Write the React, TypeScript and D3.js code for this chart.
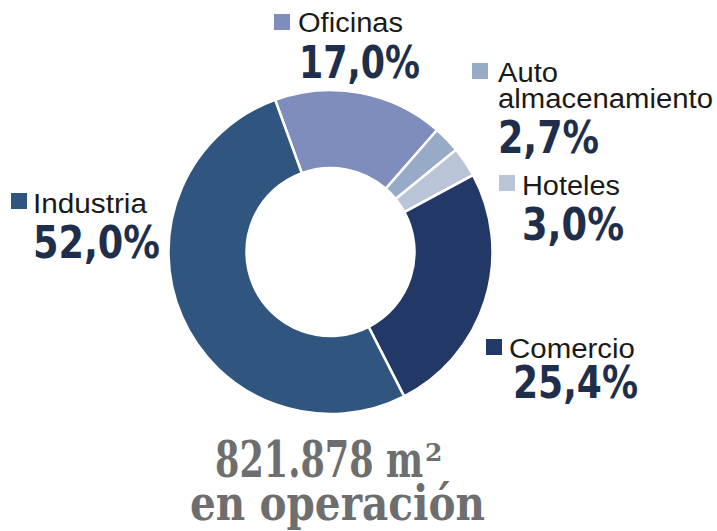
import React, { useEffect, useRef } from 'react';
import * as d3 from 'd3';

const categories = ['Oficinas', 'Auto almacenamiento', 'Hoteles', 'Comercio', 'Industria'];
const shares = [17.0, 2.7, 3.0, 25.4, 52.0];
const shareLabels = ['17,0%', '2,7%', '3,0%', '25,4%', '52,0%'];
const colors = ['#7f8dbd', '#97aac8', '#bac4d7', '#223866', '#30557f'];
const totalLabel = ['821.878 m', '2', 'en operación'];

const W = 717;
const H = 531;

const App = () => {
  const svgRef = useRef(null);

  useEffect(() => {
    document.body.style.margin = '0';
    const svg = d3.select(svgRef.current);
    svg.selectAll('*').remove();

    const cx = 330.5, cy = 252;
    const g = svg.append('g').attr('transform', `translate(${cx},${cy})`);

    const start = (-20 * Math.PI) / 180;
    const pie = d3.pie<number>().sort(null).value(d => d)
      .startAngle(start).endAngle(start + 2 * Math.PI);
    const arc = d3.arc<d3.PieArcDatum<number>>().innerRadius(84).outerRadius(162);

    g.selectAll('path')
      .data(pie(shares))
      .enter()
      .append('path')
      .attr('d', arc)
      .attr('fill', (d, i) => colors[i])
      .attr('stroke', 'white')
      .style('stroke-width', '2.5px');

    // where each legend entry goes: square, name lines [text, x, baseline, width], percent [x, baseline, width]
    const layout = [
      { sq: [274, 14], names: [['Oficinas', 298, 32, 105]], pct: [299, 78, 121] },
      { sq: [472, 63], names: [['Auto', 498, 82, 60], ['almacenamiento', 498, 108, 215]], pct: [498, 153, 101] },
      { sq: [499, 175], names: [['Hoteles', 522, 195, 98]], pct: [522, 240, 102] },
      { sq: [486, 339], names: [['Comercio', 509, 358, 126]], pct: [513, 398, 125] },
      { sq: [11, 193], names: [['Industria', 33, 213, 114]], pct: [33, 258, 127] },
    ];

    const labels = svg.append('g');
    layout.forEach((l, i) => {
      labels.append('rect')
        .attr('x', l.sq[0]).attr('y', l.sq[1])
        .attr('width', 16).attr('height', 16)
        .attr('fill', colors[i]);
      l.names.forEach(n => {
        labels.append('text')
          .attr('x', n[1]).attr('y', n[2])
          .attr('textLength', n[3]).attr('lengthAdjust', 'spacingAndGlyphs')
          .style('font-family', '"Liberation Sans", Arial, sans-serif')
          .style('font-size', '27px')
          .attr('fill', '#1a1a1a')
          .text(n[0] as string);
      });
      labels.append('text')
        .attr('x', l.pct[0]).attr('y', l.pct[1])
        .attr('textLength', l.pct[2]).attr('lengthAdjust', 'spacingAndGlyphs')
        .style('font-family', '"DejaVu Sans", sans-serif')
        .style('font-weight', 'bold')
        .style('font-size', '45px')
        .attr('fill', '#1f2f4b')
        .text(shareLabels[i]);
    });

    // total at the bottom
    const grey = '#6e6e6e';
    svg.append('text')
      .attr('x', 215).attr('y', 477)
      .attr('textLength', 208).attr('lengthAdjust', 'spacingAndGlyphs')
      .style('font-family', '"DejaVu Serif", serif')
      .style('font-weight', 'bold')
      .style('font-size', '50px')
      .attr('fill', grey)
      .text(totalLabel[0]);
    svg.append('text')
      .attr('x', 425).attr('y', 461)
      .style('font-family', '"DejaVu Serif", serif')
      .style('font-weight', 'bold')
      .style('font-size', '25px')
      .attr('fill', grey)
      .text(totalLabel[1]);

    svg.append('text')
      .attr('x', 190).attr('y', 520)
      .attr('textLength', 295).attr('lengthAdjust', 'spacingAndGlyphs')
      .style('font-family', '"DejaVu Serif", serif')
      .style('font-weight', 'bold')
      .style('font-size', '48px')
      .attr('fill', grey)
      .text(totalLabel[2]);
  }, []);

  return <svg ref={svgRef} width={W} height={H} style={{ display: 'block', background: '#fff' }}></svg>;
};

export default App;
